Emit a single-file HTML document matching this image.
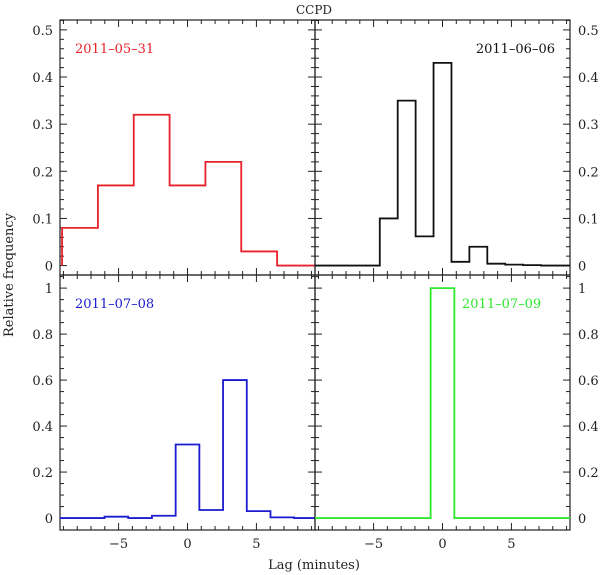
<!DOCTYPE html>
<html><head><meta charset="utf-8"><style>
body{margin:0;background:#fff}
svg{display:block;font-family:"DejaVu Serif","Liberation Serif",serif}
</style></head><body>
<svg id="c" width="600" height="575" viewBox="0 0 600 575"></svg>
<script>
// data
const redEdges=[-9.1,-6.5,-3.9,-1.3,1.3,3.9,6.5,9.25];
const redVals=[0.08,0.17,0.32,0.17,0.22,0.03,0];
const blackEdges=[-9.25,-4.55,-3.25,-1.95,-0.65,0.65,1.95,3.25,4.55,5.85,7.15,9.25];
const blackVals=[0,0.1,0.35,0.062,0.43,0.008,0.04,0.004,0.002,0.001,0];
const blueEdges=[-9.25,-7.74,-6.02,-4.3,-2.58,-0.86,0.86,2.58,4.3,6.02,7.74,9.25];
const blueVals=[0,0,0.006,0,0.01,0.32,0.035,0.6,0.03,0.003,0];
const greenEdges=[-9.25,-0.86,0.86,9.25];
const greenVals=[0,1,0];
const xTicks=[-5,0,5];
const topYTicks=[0,0.1,0.2,0.3,0.4,0.5];
const botYTicks=[0,0.2,0.4,0.6,0.8,1];

const NS="http://www.w3.org/2000/svg";
const svg=document.getElementById('c');
function mk(t,a,p){const e=document.createElementNS(NS,t);for(const k in a)e.setAttribute(k,a[k]);(p||svg).appendChild(e);return e;}
const XMIN=-9.25,XMAX=9.25;
function panel(x0,x1,y0,y1,ymin,ymax,yt,ymin2,edges,vals,color,label,lx,anchor,rightLabels,name){
  const g=mk('g',{});
  
  
  const sx=v=>x0+(v-XMIN)/(XMAX-XMIN)*(x1-x0);
  const sy=v=>y1-(v-ymin)/(ymax-ymin)*(y1-y0);
  const frame=mk('rect',{x:x0,y:y0,width:x1-x0,height:y1-y0,fill:'none',stroke:'#222','stroke-width':1.2},g);
  
  
  for(let v=-9;v<=9;v++){
    const L=(v%5===0)?7:4;const X=sx(v);
    mk('line',{x1:X,x2:X,y1:y1,y2:y1-L,stroke:'#222'},g);
    mk('line',{x1:X,x2:X,y1:y0,y2:y0+L,stroke:'#222'},g);
  }
  for(let i=0;i<200;i++){
    const v=Math.round(i*ymin2*1000)/1000; if(v>ymax)break;
    const maj=yt.some(t=>Math.abs(t-v)<1e-6);const L=maj?7:4;const Y=sy(v);
    mk('line',{x1:x0,x2:x0+L,y1:Y,y2:Y,stroke:'#222'},g);
    mk('line',{x1:x1,x2:x1-L,y1:Y,y2:Y,stroke:'#222'},g);
  }
  yt.forEach(v=>{
    const t=mk('text',{x:rightLabels?x1+8:x0-7,y:sy(v)+5,'font-size':13,'text-anchor':rightLabels?'start':'end',fill:'#222'},g);
    t.textContent=String(v);
    
    
  });
  if(y1>500){xTicks.forEach(v=>{
    const t=mk('text',{x:sx(v),y:y1+18,'font-size':13,'text-anchor':'middle',fill:'#222'},g);
    t.textContent=v<0?'\u2212'+(-v):String(v);
    
    
  });}
  let d='M'+sx(edges[0])+','+sy(0);
  for(let i=0;i<vals.length;i++){d+=' L'+sx(edges[i])+','+sy(vals[i])+' L'+sx(edges[i+1])+','+sy(vals[i]);}
  const p=mk('path',{d:d,fill:'none',stroke:color,'stroke-width':1.8},g);
  
  
  const t=mk('text',{x:lx,y:y0+33,'font-size':13,'text-anchor':anchor,fill:color},g);
  t.textContent=label.replace(/-/g,'\u2013');
  
  
}
panel(60,315,20,275,-0.02,0.521,topYTicks,0.02,redEdges,redVals,'#e8212a','2011-05-31',75,'start',false,'panel-2011-05-31');
panel(315,570,20,275,-0.02,0.521,topYTicks,0.02,blackEdges,blackVals,'#111','2011-06-06',555,'end',true,'panel-2011-06-06');
panel(60,315,275,530,-0.052,1.057,botYTicks,0.05,blueEdges,blueVals,'#1b1bd0','2011-07-08',75,'start',false,'panel-2011-07-08');
panel(315,570,275,530,-0.052,1.057,botYTicks,0.05,greenEdges,greenVals,'#2ee82e','2011-07-09',462,'start',true,'panel-2011-07-09');
let t=mk('text',{x:314,y:14,'font-size':12,'text-anchor':'middle',fill:'#222'});t.textContent='CCPD';


t=mk('text',{x:314,y:569,'font-size':13,'text-anchor':'middle',fill:'#222'});t.textContent='Lag (minutes)';


t=mk('text',{x:0,y:0,'font-size':13,'text-anchor':'middle',fill:'#222',transform:'translate(13,275) rotate(-90)'});t.textContent='Relative frequency';


</script>
</body></html>
